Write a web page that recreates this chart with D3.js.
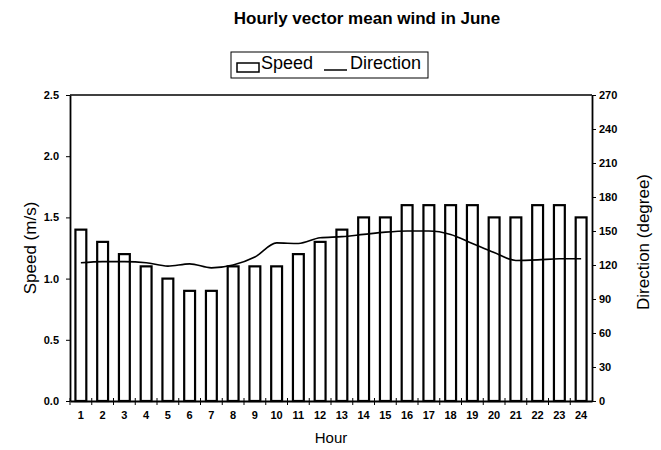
<!DOCTYPE html>
<html>
<head>
<meta charset="utf-8">
<script src="https://cdn.jsdelivr.net/npm/d3@7"></script>
<style>
  body { margin: 0; background: #fff; }
  text { font-family: Arial, "Liberation Sans", sans-serif; fill: #000; }
</style>
</head>
<body>
<div id="chart"></div>
<script>
// Set dimensions
const width = 661;
const height = 450;
const margin = {top: 95, right: 69, bottom: 49, left: 70};

// Data
const hours = d3.range(1, 25);
const speed = [1.4, 1.3, 1.2, 1.1, 1.0, 0.9, 0.9, 1.1, 1.1, 1.1, 1.2, 1.3,
               1.4, 1.5, 1.5, 1.6, 1.6, 1.6, 1.6, 1.5, 1.5, 1.6, 1.6, 1.5];
const direction = [122, 123, 123, 122, 119, 121, 117.5, 120, 127, 139.5, 139, 144,
                   145, 147, 149, 150, 150, 147, 139, 131, 124, 124.5, 125.5, 125.5];
const speedTicks = [0, 0.5, 1.0, 1.5, 2.0, 2.5];
const dirTicks = [0, 30, 60, 90, 120, 150, 180, 210, 240, 270];

const svg = d3.select("#chart")
  .append("svg")
  .attr("width", width)
  .attr("height", height);

const x = d3.scaleBand()
  .domain(hours)
  .range([margin.left, width - margin.right])
  .paddingInner(0.5)
  .paddingOuter(0.25);

const y = d3.scaleLinear().domain([0, 2.5]).range([height - margin.bottom, margin.top]);
const y2 = d3.scaleLinear().domain([0, 270]).range([height - margin.bottom, margin.top]);

// Title
svg.append("text")
  .attr("x", 367)
  .attr("y", 24)
  .attr("text-anchor", "middle")
  .style("font-size", "17px")
  .style("font-weight", "bold")
  .text("Hourly vector mean wind in June");

// Legend
const leg = svg.append("g");
leg.append("rect")
  .attr("x", 231).attr("y", 52).attr("width", 197).attr("height", 26)
  .attr("fill", "none").attr("stroke", "#000").attr("stroke-width", 1);
leg.append("rect")
  .attr("x", 237).attr("y", 63).attr("width", 22).attr("height", 9)
  .attr("fill", "none").attr("stroke", "#000").attr("stroke-width", 1.5);
leg.append("text")
  .attr("x", 261).attr("y", 69)
  .style("font-size", "18px")
  .text("Speed");
leg.append("line")
  .attr("x1", 324).attr("x2", 347).attr("y1", 70).attr("y2", 70)
  .attr("stroke", "#000").attr("stroke-width", 1.5);
leg.append("text")
  .attr("x", 350).attr("y", 69)
  .style("font-size", "18px")
  .text("Direction");

// Bars
svg.append("g")
  .selectAll("rect")
  .data(speed)
  .enter()
  .append("rect")
  .attr("x", (d, i) => x(hours[i]))
  .attr("y", d => y(d))
  .attr("width", x.bandwidth())
  .attr("height", d => y(0) - y(d))
  .attr("fill", "#fff")
  .attr("stroke", "#000")
  .attr("stroke-width", 2.2);

// Direction line
const line = d3.line()
  .x((d, i) => x(hours[i]) + x.bandwidth() / 2)
  .y(d => y2(d))
  .curve(d3.curveMonotoneX);

svg.append("path")
  .datum(direction)
  .attr("fill", "none")
  .attr("stroke", "#000")
  .attr("stroke-width", 1.6)
  .attr("d", line);

// Frame top
svg.append("line")
  .attr("x1", margin.left).attr("x2", width - margin.right)
  .attr("y1", margin.top).attr("y2", margin.top)
  .attr("stroke", "#000").attr("stroke-width", 1.5);

// Left axis
const yAxis = svg.append("g")
  .attr("transform", `translate(${margin.left},0)`)
  .call(d3.axisLeft(y).tickValues(speedTicks).tickFormat(d3.format(".1f")).tickSize(4).tickSizeOuter(0));
yAxis.selectAll("text").style("font-size", "11px").style("font-weight", "bold").attr("x", -11);

// Right axis
const y2Axis = svg.append("g")
  .attr("transform", `translate(${width - margin.right},0)`)
  .call(d3.axisRight(y2).tickValues(dirTicks).tickSize(4).tickSizeOuter(0));
y2Axis.selectAll("text").style("font-size", "11px").style("font-weight", "bold").attr("x", 7);

// Bottom axis, ticks at band edges
const xAxis = svg.append("g")
  .attr("transform", `translate(0,${height - margin.bottom})`)
  .call(d3.axisBottom(x).tickSize(0).tickSizeOuter(0));
xAxis.selectAll("text").style("font-size", "11px").style("font-weight", "bold").attr("y", 10);
const step = x.step();
xAxis.selectAll("line.edge")
  .data(hours)
  .enter()
  .append("line")
  .attr("class", "edge")
  .attr("x1", d => x(d) - x.paddingInner() / 2 * step)
  .attr("x2", d => x(d) - x.paddingInner() / 2 * step)
  .attr("y1", -3).attr("y2", 4)
  .attr("stroke", "#000");

svg.selectAll(".domain").attr("stroke-width", 1.8);

// Axis titles
svg.append("text")
  .attr("transform", `translate(36,${(margin.top + height - margin.bottom) / 2}) rotate(-90)`)
  .attr("text-anchor", "middle")
  .style("font-size", "17px")
  .text("Speed (m/s)");

svg.append("text")
  .attr("transform", `translate(649,242) rotate(-90)`)
  .attr("text-anchor", "middle")
  .style("font-size", "17px")
  .text("Direction (degree)");

svg.append("text")
  .attr("x", 331)
  .attr("y", 443)
  .attr("text-anchor", "middle")
  .style("font-size", "15px")
  .text("Hour");
</script>
</body>
</html>
